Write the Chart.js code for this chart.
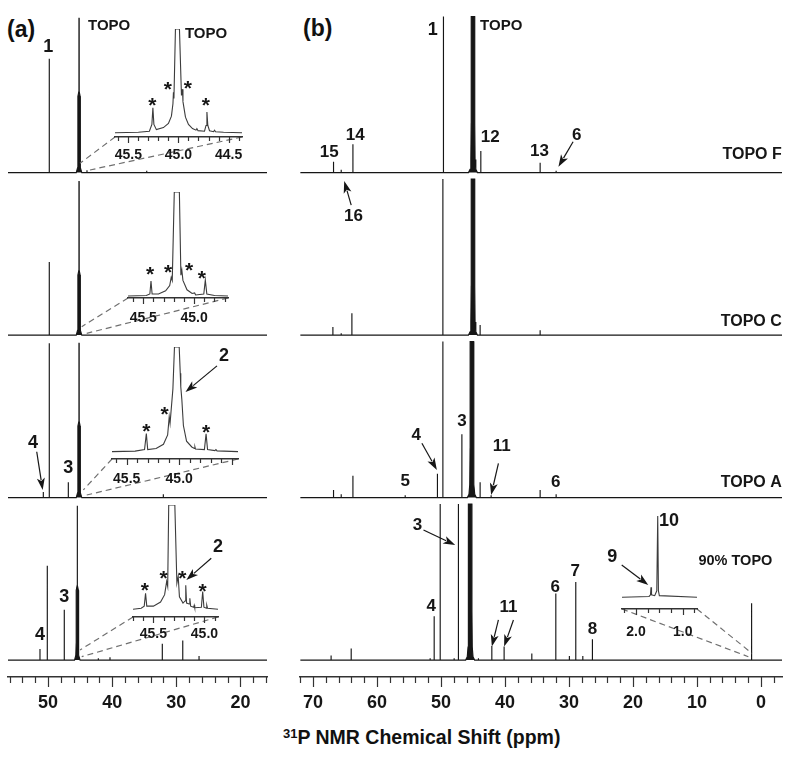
<!DOCTYPE html>
<html>
<head>
<meta charset="utf-8">
<script src="https://cdn.jsdelivr.net/npm/chart.js@4.4.1/dist/chart.umd.min.js"></script>
<style>
html,body{margin:0;padding:0;background:#fff;}
#wrap{position:relative;width:800px;height:763px;overflow:hidden;background:#fff;font-family:"Liberation Sans",Arial,Helvetica,sans-serif;color:#111;}
#wrap canvas{position:absolute;}
.txt{position:absolute;font-weight:bold;white-space:nowrap;line-height:1;}
</style>
</head>
<body>
<div id="wrap">
<div class="txt" style="left:7px;top:18px;font-size:23px;">(a)</div>
<div class="txt" style="left:303px;top:17px;font-size:23px;">(b)</div>
<div class="txt" style="left:283px;top:728px;font-size:19.5px;"><span style="font-size:13px;position:relative;top:-6px;">31</span>P NMR Chemical Shift (ppm)</div>
</div>
<script>
// ------------------------------------------------------------------ DATA
const axisTicksA = [50, 40, 30, 20];
const axisTicksB = [70, 60, 50, 40, 30, 20, 10, 0];
const spectrumNames = ['TOPO F', 'TOPO C', 'TOPO A', '90% TOPO'];

// Panel (a) spectra: [ppm, intensity] sticks, or explicit [[ppm, intensity], ...] profiles
const aTopoF = [
  [49.81, 0.70],
  [[45.6,0],[45.4,0.03],[45.35,0.1],[45.34,0.47],[45.19,0.5],[45.18,0.95],[45.16,0.95],[45.15,0.5],[45.0,0.47],[44.99,0.1],[44.94,0.03],[44.74,0]],
  [43.93, 0.015],
  [34.61, 0.012]
];
const aTopoC = [
  [49.81, 0.45],
  [[45.6,0],[45.4,0.03],[45.35,0.1],[45.34,0.37],[45.19,0.4],[45.18,0.945],[45.16,0.945],[45.15,0.4],[45.0,0.37],[44.99,0.1],[44.94,0.03],[44.74,0]]
];
const aTopoA = [
  [50.74, 0.035],
  [49.81, 0.95],
  [46.84, 0.095],
  [[45.6,0],[45.4,0.03],[45.35,0.1],[45.34,0.44],[45.19,0.47],[45.18,0.95],[45.16,0.95],[45.15,0.47],[45.0,0.44],[44.99,0.1],[44.94,0.03],[44.74,0]],
  [32.02, 0.02]
];
const aTopo90 = [
  [51.26, 0.068],
  [50.12, 0.58],
  [47.47, 0.31],
  [[45.87,0],[45.67,0.03],[45.62,0.1],[45.61,0.43],[45.46,0.46],[45.45,0.95],[45.43,0.95],[45.42,0.46],[45.27,0.43],[45.26,0.1],[45.21,0.03],[45.01,0]],
  [42.16, 0.012],
  [40.34, 0.018],
  [32.18, 0.10],
  [28.99, 0.12],
  [26.45, 0.025]
];

// Panel (b) spectra
const bTopoF = [
  [66.79, 0.066], [65.59, 0.018], [63.76, 0.175], [49.61, 0.96],
  [[45.7,0],[45.45,0.02],[45.33,0.08],[45.28,0.3],[45.27,0.96],[44.73,0.96],[44.72,0.3],[44.67,0.08],[44.55,0.02],[44.3,0]],
  [43.77, 0.133], [34.50, 0.06], [32.0, 0.012]
];
const bTopoC = [
  [66.89, 0.05], [65.59, 0.012], [63.92, 0.134], [49.70, 0.96],
  [[45.7,0],[45.45,0.02],[45.33,0.08],[45.28,0.3],[45.27,0.96],[44.73,0.96],[44.72,0.3],[44.67,0.08],[44.55,0.02],[44.3,0]],
  [43.88, 0.062], [34.50, 0.03]
];
const bTopoA = [
  [66.79, 0.047], [65.59, 0.02], [63.76, 0.135], [55.59, 0.015], [50.55, 0.146], [49.70, 0.96], [46.73, 0.39],
  [[45.87,0],[45.62,0.02],[45.5,0.08],[45.45,0.3],[45.44,0.96],[44.9,0.96],[44.89,0.3],[44.84,0.08],[44.72,0.02],[44.47,0]],
  [43.88, 0.095], [42.16, 0.015], [34.50, 0.047], [32.0, 0.02]
];
const bTopo90 = [
  [67.17, 0.029], [64.03, 0.072], [51.69, 0.012], [51.06, 0.27], [50.12, 0.96], [47.94, 0.012], [47.27, 0.96],
  [[46.14,0],[45.89,0.02],[45.77,0.08],[45.72,0.3],[45.71,0.96],[45.17,0.96],[45.16,0.3],[45.11,0.08],[44.99,0.02],[44.74,0]],
  [44.14, 0.012], [42.05, 0.086], [40.13, 0.083], [35.80, 0.041], [32.05, 0.41], [29.93, 0.025],
  [28.93, 0.48], [27.83, 0.025], [26.33, 0.128], [1.45, 0.35]
];

// Inset spectra (expanded TOPO region of panel (a), and 0.7–2.3 ppm region of panel (b))
const insetTicksA1 = [45.5, 45.0, 44.5];
const insetTicksA = [45.5, 45.0];
const insetTicksB = [2.0, 1.0];
const insetF = [[45.633,0],[45.40,0.005],[45.29,0.015],[45.265,0.08],[45.255,0.24],[45.245,0.08],[45.22,0.03],[45.15,0.05],[45.10,0.09],[45.07,0.16],[45.055,0.28],[45.05,0.39],[45.045,0.33],[45.03,1.0],[44.99,1.0],[44.97,0.36],[44.96,0.42],[44.955,0.3],[44.93,0.15],[44.90,0.08],[44.86,0.04],[44.825,0.025],[44.816,0.04],[44.805,0.02],[44.74,0.015],[44.725,0.07],[44.716,0.20],[44.707,0.07],[44.69,0.02],[44.65,0.01],[44.64,0.025],[44.63,0.01],[44.55,0.005],[44.366,0]];
const insetC = [[45.65,0],[45.47,0.005],[45.435,0.02],[45.424,0.144],[45.413,0.02],[45.35,0.02],[45.28,0.05],[45.24,0.1],[45.225,0.18],[45.215,0.15],[45.195,1.0],[45.145,1.0],[45.13,0.2],[45.121,0.25],[45.11,0.15],[45.07,0.06],[45.02,0.025],[44.995,0.03],[44.985,0.01],[44.905,0.02],[44.89,0.153],[44.875,0.02],[44.80,0.005],[44.667,0]];
const insetA = [[45.64,0],[45.42,0.005],[45.33,0.02],[45.313,0.172],[45.30,0.02],[45.22,0.03],[45.15,0.07],[45.11,0.16],[45.095,0.334],[45.087,0.27],[45.06,0.6],[45.045,1.0],[45.0,1.0],[44.99,0.75],[44.985,0.62],[44.975,0.5],[44.96,0.25],[44.93,0.1],[44.88,0.045],[44.855,0.03],[44.85,0.045],[44.845,0.025],[44.76,0.02],[44.744,0.17],[44.73,0.02],[44.66,0.01],[44.65,0.02],[44.64,0.008],[44.44,0]];
const insetN = [[45.70,0],[45.62,0.01],[45.59,0.03],[45.577,0.153],[45.565,0.03],[45.50,0.03],[45.43,0.07],[45.39,0.14],[45.37,0.268],[45.36,0.22],[45.35,1.0],[45.29,1.0],[45.27,0.25],[45.257,0.316],[45.245,0.12],[45.21,0.06],[45.19,0.08],[45.183,0.23],[45.175,0.06],[45.15,0.05],[45.143,0.105],[45.135,0.03],[45.105,0.02],[45.10,0.038],[45.095,0.015],[45.03,0.02],[45.017,0.17],[45.005,0.02],[44.98,0.01],[44.977,0.038],[44.97,0.01],[44.867,0]];
const insetLow = [[2.30,0],[1.72,0.01],[1.69,0.03],[1.679,0.123],[1.668,0.03],[1.60,0.02],[1.555,0.08],[1.535,1.0],[1.52,0.08],[1.50,0.02],[0.694,0]];

// ------------------------------------------------------------------ STYLE / LAYOUT
const FONT = '"Liberation Sans", Arial, Helvetica, sans-serif';
const INK = '#161616', INSET_INK = '#3c3c3c', AXIS = '#333', DASH = '#707070';
Chart.defaults.font.family = FONT;
const wrap = document.getElementById('wrap');
const H = 763, AXIS_Y = 677;

function addCanvas(left, top, w, h) {
  const c = document.createElement('canvas');
  c.width = Math.round(w); c.height = Math.round(h);
  c.style.left = left + 'px'; c.style.top = top + 'px';
  c.style.width = Math.round(w) + 'px'; c.style.height = Math.round(h) + 'px';
  wrap.appendChild(c);
  return c;
}

function buildSeries(features, lo, hi, offset) {
  const items = features.map(f => Array.isArray(f[0]) ? f : [[f[0], 0], [f[0], f[1]], [f[0], 0]]);
  items.sort((p, q) => q[0][0] - p[0][0]);
  const out = [{x: hi, y: offset}];
  items.forEach(it => it.forEach(p => out.push({x: p[0], y: p[1] + offset})));
  out.push({x: lo, y: offset});
  return out;
}

function arrow(ctx, x1, y1, x2, y2) {
  const a = Math.atan2(y2 - y1, x2 - x1), L = 12, W = 4;
  const bx = x2 - L * Math.cos(a), by = y2 - L * Math.sin(a);
  ctx.strokeStyle = INK; ctx.fillStyle = INK; ctx.lineWidth = 1.2;
  ctx.beginPath(); ctx.moveTo(x1, y1); ctx.lineTo(bx + 2 * Math.cos(a), by + 2 * Math.sin(a)); ctx.stroke();
  ctx.beginPath(); ctx.moveTo(x2, y2);
  ctx.lineTo(bx + W * Math.sin(a), by - W * Math.cos(a));
  ctx.lineTo(bx + 3 * Math.cos(a), by + 3 * Math.sin(a));
  ctx.lineTo(bx - W * Math.sin(a), by + W * Math.cos(a));
  ctx.closePath(); ctx.fill();
}

function tickMarksPlugin(minor, major, lenMinor, lenMajor) {
  return { id: 'tickMarks', afterDraw(chart) {
    const s = chart.scales.x, ctx = chart.ctx;
    const lo = Math.min(s.min, s.max), hi = Math.max(s.min, s.max);
    const n0 = Math.ceil(lo / minor - 1e-6), n1 = Math.floor(hi / minor + 1e-6);
    ctx.save(); ctx.strokeStyle = AXIS; ctx.lineWidth = 1.2;
    for (let n = n0; n <= n1; n++) {
      const v = n * minor, r = v / major;
      const isMajor = Math.abs(r - Math.round(r)) < 1e-6;
      const px = Math.round(s.getPixelForValue(v)) + 0.5;
      ctx.beginPath(); ctx.moveTo(px, s.top); ctx.lineTo(px, s.top + (isMajor ? lenMajor : lenMinor)); ctx.stroke();
    }
    ctx.restore();
  }};
}

const insetReg = {};
function notesPlugin(notes) {
  return { id: 'notes', afterDraw(chart) {
    const xs = chart.scales.x, ys = chart.scales.y, ctx = chart.ctx;
    const X = v => xs.getPixelForValue(v), Y = v => ys.getPixelForValue(v);
    ctx.save();
    (notes.links || []).forEach(l => {
      const g = insetReg[l[0]], ca = g.chart.chartArea;
      const sx = g.left + (l[1] === 'l' ? ca.left : ca.right) - notes.pageLeft;
      const sy = g.top + ca.bottom - notes.pageTop;
      ctx.setLineDash([6, 4]); ctx.strokeStyle = DASH; ctx.lineWidth = 1.2;
      ctx.beginPath(); ctx.moveTo(sx, sy); ctx.lineTo(X(l[2]), Y(l[3])); ctx.stroke();
    });
    ctx.setLineDash([]);
    (notes.arrows || []).forEach(a => arrow(ctx, X(a[0]), Y(a[1]), X(a[2]), Y(a[3])));
    (notes.stars || []).forEach(s => {
      ctx.font = 'bold 21px ' + FONT; ctx.fillStyle = INK; ctx.textAlign = 'center'; ctx.textBaseline = 'alphabetic';
      ctx.fillText('*', X(s[0]), Y(s[1]) + 0.575 * 21);
    });
    (notes.texts || []).forEach(t => {
      ctx.font = 'bold ' + (t[3] || 17) + 'px ' + FONT; ctx.fillStyle = INK;
      ctx.textAlign = t[4] || 'center'; ctx.textBaseline = 'middle';
      ctx.fillText(t[0], X(t[1]), Y(t[2]));
    });
    ctx.restore();
  }};
}

// ------------------------------------------------------------------ ANNOTATIONS (data coordinates)
const notesA = {
  pageLeft: 0, pageTop: 0,
  texts: [['1', 49.96, 3.775, 18], ['TOPO', 43.77, 3.902, 15, 'left'], ['4', 52.35, 1.336, 18],
          ['3', 46.84, 1.18, 18], ['4', 51.26, 0.154, 18], ['3', 47.47, 0.39, 18]],
  arrows: [[51.77, 1.282, 50.84, 1.047]],
  links: [['a1','l',45.02,3.057], ['a1','r',43.46,3.016], ['a2','l',44.75,2.052], ['a2','r',43.97,2.011],
          ['a3','l',44.50,1.047], ['a3','r',43.97,1.016], ['a4','l',45.02,0.062], ['a4','r',44.75,0.021]]
};
const notesB = {
  pageLeft: 285, pageTop: 0,
  texts: [['1', 51.27, 3.877, 18], ['TOPO', 43.88, 3.902, 15, 'left'], ['15', 67.47, 3.122], ['14', 63.40, 3.231],
          ['12', 42.31, 3.217], ['13', 34.61, 3.128], ['6', 28.77, 3.231], ['16', 63.67, 2.733],
          [spectrumNames[0], -3.26, 3.108, 16, 'right'], [spectrumNames[1], -3.26, 2.082, 16, 'right'],
          ['4', 53.87, 1.385], ['3', 46.73, 1.467], ['5', 55.59, 1.098], ['11', 40.49, 1.313], ['6', 32.05, 1.092],
          [spectrumNames[2], -3.26, 1.092, 16, 'right'],
          ['3', 53.67, 0.831], ['4', 51.53, 0.329], ['11', 39.45, 0.325], ['6', 32.16, 0.448], ['7', 29.03, 0.544],
          ['8', 26.33, 0.191], [spectrumNames[3], -1.79, 0.610, 14.5, 'right']],
  arrows: [[29.35, 3.190, 31.64, 3.036], [64.03, 2.80, 65.12, 2.948], [52.98, 1.334, 50.64, 1.170],
           [41.02, 1.211, 42.16, 1.016], [52.73, 0.801, 47.78, 0.708], [41.02, 0.247, 42.05, 0.083],
           [38.67, 0.247, 40.13, 0.083]],
  links: [['b1','l',1.96,0.021], ['b1','r',1.40,0.042]]
};

// ------------------------------------------------------------------ CHARTS
const canvasA = addCanvas(0, 0, 285, H);
const canvasB = addCanvas(285, 0, 515, H);

function insetChart(key, cfg) {
  const P = {l: 22, r: 55, t: 22}, AX = 32, b = cfg.box;
  const left = b.l - P.l, top = b.top - P.t;
  const canvas = addCanvas(left, top, b.r - b.l + P.l + P.r, b.axisY - b.top + P.t + AX);
  const chart = new Chart(canvas, {
    type: 'line',
    data: { datasets: [{ data: cfg.pts.map(p => ({x: p[0], y: p[1]})), borderColor: INSET_INK, borderWidth: 1.1,
                         pointRadius: 0, tension: 0, fill: false }] },
    options: {
      responsive: false, animation: false, events: [],
      layout: { padding: { left: P.l, right: P.r, top: P.t, bottom: 0 } },
      plugins: { legend: { display: false }, tooltip: { enabled: false } },
      scales: {
        x: { type: 'linear', reverse: true, min: cfg.lo, max: cfg.hi,
             afterBuildTicks: sc => { sc.ticks = cfg.ticks.map(v => ({value: v})); },
             afterFit: sc => { sc.height = AX; },
             ticks: { padding: cfg.pad, color: INK, font: { size: 14, weight: 'bold' }, autoSkip: false, maxRotation: 0,
                      callback: v => Number(v).toFixed(1) },
             grid: { drawOnChartArea: false, drawTicks: false },
             border: { display: true, color: AXIS, width: 1.5 } },
        y: { display: false, min: cfg.yLo, max: 1 }
      }
    },
    plugins: [tickMarksPlugin(cfg.minor, cfg.major, 4, 6), notesPlugin(cfg.notes)]
  });
  insetReg[key] = { chart, left, top };
}

insetChart('a1', { box: {l:115, r:242, axisY:137, top:29}, pts: insetF, lo: 44.366, hi: 45.633, yLo: -0.041,
  ticks: insetTicksA1, pad: 9.6, minor: 0.1, major: 0.5,
  notes: { stars: [[45.26,0.316],[45.106,0.47],[44.906,0.48],[44.726,0.316]], texts: [['TOPO', 44.935, 0.955, 15, 'left']] } });
insetChart('a2', { box: {l:128, r:228, axisY:298, top:192}, pts: insetC, lo: 44.667, hi: 45.65, yLo: -0.019,
  ticks: insetTicksA, pad: 11.9, minor: 0.1, major: 0.5,
  notes: { stars: [[45.434,0.256],[45.257,0.281],[45.049,0.297],[44.924,0.22]] } });
insetChart('a3', { box: {l:112, r:238, axisY:459, top:347}, pts: insetA, lo: 44.44, hi: 45.64, yLo: -0.07,
  ticks: insetTicksA, pad: 11.6, minor: 0.1, major: 0.5,
  notes: { stars: [[45.313,0.245],[45.139,0.405],[44.744,0.239]], texts: [['2', 44.573, 0.915, 18]],
           arrows: [[44.64, 0.82, 44.94, 0.57]] } });
insetChart('a4', { box: {l:133, r:218, axisY:617, top:505}, pts: insetN, lo: 44.867, hi: 45.70, yLo: -0.074,
  ticks: insetTicksA, pad: 8.6, minor: 0.1, major: 0.5,
  notes: { stars: [[45.583,0.233],[45.4,0.345],[45.217,0.351],[45.017,0.224]], texts: [['2', 44.867, 0.6, 18]],
           arrows: [[44.933, 0.489, 45.177, 0.281]] } });
insetChart('b1', { box: {l:622, r:697, axisY:609, top:516}, pts: insetLow, lo: 0.694, hi: 2.30, yLo: -0.144,
  ticks: insetTicksB, pad: 14.3, minor: 0.25, major: 1.0,
  notes: { texts: [['10', 1.293, 0.938, 18], ['9', 2.51, 0.49, 18]], arrows: [[2.306, 0.397, 1.737, 0.151]] } });

function mainChart(canvas, spectra, lo, hi, padL, padR, ticks, notes) {
  const n = spectra.length;
  return new Chart(canvas, {
    type: 'line',
    data: { datasets: spectra.map((s, i) => {
      const off = n - 1 - i;
      return { label: spectrumNames[i], data: buildSeries(s, lo, hi, off), borderColor: INK, backgroundColor: INK,
               borderWidth: 1.15, pointRadius: 0, tension: 0, fill: { value: off } };
    }) },
    options: {
      responsive: false, animation: false, events: [],
      layout: { padding: { left: padL, right: padR, top: 0, bottom: 0 } },
      plugins: { legend: { display: false }, tooltip: { enabled: false } },
      scales: {
        x: { type: 'linear', reverse: true, min: lo, max: hi,
             afterBuildTicks: sc => { sc.ticks = ticks.map(v => ({value: v})); },
             afterFit: sc => { sc.height = H - AXIS_Y; },
             ticks: { padding: 15.2, color: INK, font: { size: 18, weight: 'bold' }, autoSkip: false, maxRotation: 0,
                      callback: v => String(v) },
             grid: { drawOnChartArea: false, drawTicks: false },
             border: { display: true, color: AXIS, width: 1.5 } },
        y: { display: false, min: -0.104, max: 4.062 }
      }
    },
    plugins: [tickMarksPlugin(2, 10, 6, 10), notesPlugin(notes)]
  });
}

mainChart(canvasA, [aTopoF, aTopoC, aTopoA, aTopo90], 15.85, 56.25, 8, 18, axisTicksA, notesA);
mainChart(canvasB, [bTopoF, bTopoC, bTopoA, bTopo90], -3.3, 72.0, 15.2, 18, axisTicksB, notesB);
</script>
</body>
</html>
